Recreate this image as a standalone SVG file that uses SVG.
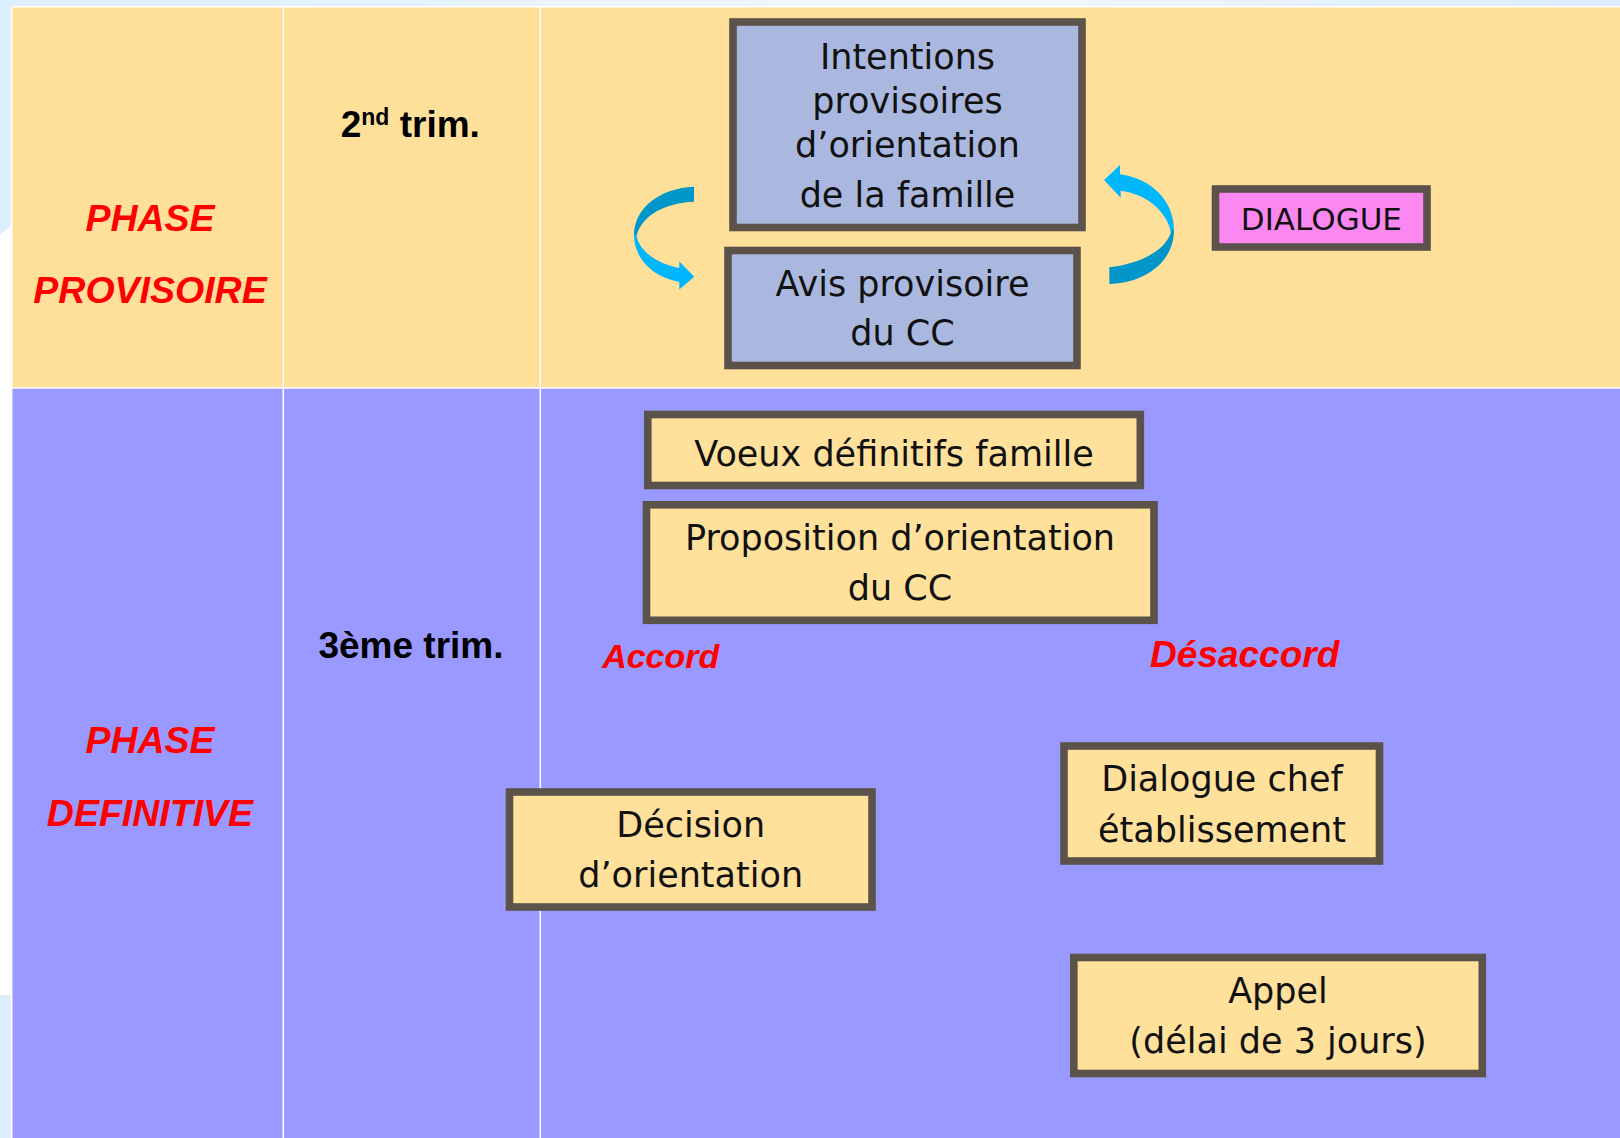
<svg xmlns="http://www.w3.org/2000/svg" width="1620" height="1138" viewBox="0 0 1620 1138">
  <defs>
    <linearGradient id="bg" x1="0" y1="0" x2="1" y2="0">
      <stop offset="0" stop-color="#DDEEFF"/>
      <stop offset="0.6" stop-color="#F2F8FF"/>
      <stop offset="1" stop-color="#DCEBFF"/>
    </linearGradient>
    <linearGradient id="arrL" gradientUnits="userSpaceOnUse" x1="0" y1="186" x2="0" y2="290">
      <stop offset="0" stop-color="#0096C9"/>
      <stop offset="0.47" stop-color="#0096C9"/>
      <stop offset="0.47" stop-color="#00B7FF"/>
      <stop offset="1" stop-color="#00B7FF"/>
    </linearGradient>
    <linearGradient id="arrR" gradientUnits="userSpaceOnUse" x1="0" y1="165" x2="0" y2="285">
      <stop offset="0" stop-color="#00B7FF"/>
      <stop offset="0.54" stop-color="#00B7FF"/>
      <stop offset="0.54" stop-color="#0096C9"/>
      <stop offset="1" stop-color="#0096C9"/>
    </linearGradient>
  </defs>
  <style>
    .yel{fill:#FFE09B}
    .pur{fill:#9999FF}
    .grid{stroke:#FFFFFF;stroke-width:1.5;fill:none}
    .node rect{stroke:#5B5249;stroke-width:7.6}
    .by rect{fill:#FFE19C}
    .bb rect{fill:#AAB8E0}
    .node text{font-family:"DejaVu Sans","Liberation Sans",sans-serif;font-size:35px;fill:#111111;text-anchor:middle}
    .phase{font-family:"Liberation Sans",Arial,sans-serif;font-weight:bold;font-style:italic;fill:#FF0000;font-size:37.5px;text-anchor:middle}
    .lbl{font-family:"Liberation Sans",Arial,sans-serif;font-weight:bold;font-style:italic;fill:#FF0000}
    .trim{font-family:"Liberation Sans",Arial,sans-serif;font-weight:bold;font-size:37px;fill:#000000}
  </style>

  <!-- background -->
  <rect x="0" y="0" width="1620" height="1138" fill="url(#bg)"/>
  <polygon points="0,235 12,225 12,995 0,995" fill="#FFFFFF"/>

  <!-- table -->
  <g id="table">
    <rect class="yel" x="11.7" y="6.7" width="1608.3" height="381.3"/>
    <rect class="pur" x="11.7" y="388" width="1608.3" height="750"/>
    <path class="grid" d="M11.7 6.7 H1620 M11.7 6.7 V1138 M11.7 388 H1620 M283.3 6.7 V1138 M540.3 6.7 V1138"/>
  </g>

  <!-- row / column labels -->
  <g id="phase-provisoire">
    <text class="phase" x="150" y="231">PHASE</text>
    <text class="phase" x="150" y="303">PROVISOIRE</text>
  </g>
  <g id="phase-definitive">
    <text class="phase" x="150" y="753">PHASE</text>
    <text class="phase" x="150" y="826">DEFINITIVE</text>
  </g>
  <g id="trim2">
    <text class="trim" x="340.7" y="137">2<tspan font-size="23" dy="-12">nd</tspan><tspan dy="12"> trim.</tspan></text>
  </g>
  <g id="trim3">
    <text class="trim" x="411" y="658" text-anchor="middle">3ème trim.</text>
  </g>

  <!-- connectors (curved arrows) -->
  <g id="connectors">
    <path fill="url(#arrL)" d="M694 186.7 C660 188 634 208 634 235 C634 258 652 277 679.3 282 L679.3 289.5 L694.3 276.7 L679.3 261.5 L679.3 268 C658 264 640 252 636.5 236 C642 215 665 203 694 201.7 Z"/>
    <path fill="url(#arrR)" d="M1104 180 L1120 165 L1120 174.3 C1150 178 1174 200 1174 230 C1174 262 1145 283 1109.3 284 L1109.3 267.3 C1140 264 1166 250 1171 232 C1166 210 1146 194 1120.7 190.7 L1120.7 197.7 Z"/>
  </g>

  <!-- nodes -->
  <g id="intentions" class="node bb">
    <rect x="733" y="22" width="349" height="205.5"/>
    <text x="907.5" y="69">Intentions</text>
    <text x="907.5" y="113.3">provisoires</text>
    <text x="907.5" y="156.7">d’orientation</text>
    <text x="907.5" y="206.7">de la famille</text>
  </g>
  <g id="avis" class="node bb">
    <rect x="728" y="250.5" width="349" height="115"/>
    <text x="902.5" y="296">Avis provisoire</text>
    <text x="902.5" y="345">du CC</text>
  </g>
  <g id="dialogue" class="node">
    <rect x="1215.5" y="189" width="211.5" height="58" fill="#FB87F0"/>
    <text x="1321.4" y="230" style="font-size:31px">DIALOGUE</text>
  </g>
  <g id="voeux" class="node by">
    <rect x="647.8" y="414.5" width="492.5" height="71"/>
    <text x="894" y="465.7">Voeux définitifs famille</text>
  </g>
  <g id="proposition" class="node by">
    <rect x="646.5" y="504.8" width="507.5" height="115.5"/>
    <text x="900" y="550">Proposition d’orientation</text>
    <text x="900" y="600">du CC</text>
  </g>
  <g id="accord">
    <text class="lbl" x="660.7" y="668.3" font-size="34" text-anchor="middle">Accord</text>
  </g>
  <g id="desaccord">
    <text class="lbl" x="1244.7" y="666.7" font-size="37" text-anchor="middle">Désaccord</text>
  </g>
  <g id="decision" class="node by">
    <rect x="509.5" y="792" width="362.5" height="115"/>
    <text x="690.7" y="837.3">Décision</text>
    <text x="690.7" y="887.3">d’orientation</text>
  </g>
  <g id="dialogue-chef" class="node by">
    <rect x="1064" y="746" width="315.5" height="115"/>
    <text x="1222" y="790.7">Dialogue chef</text>
    <text x="1222" y="841.7">établissement</text>
  </g>
  <g id="appel" class="node by">
    <rect x="1073.8" y="957.5" width="408.5" height="116"/>
    <text x="1278" y="1003.3">Appel</text>
    <text x="1278" y="1053.3">(délai de 3 jours)</text>
  </g>
</svg>
